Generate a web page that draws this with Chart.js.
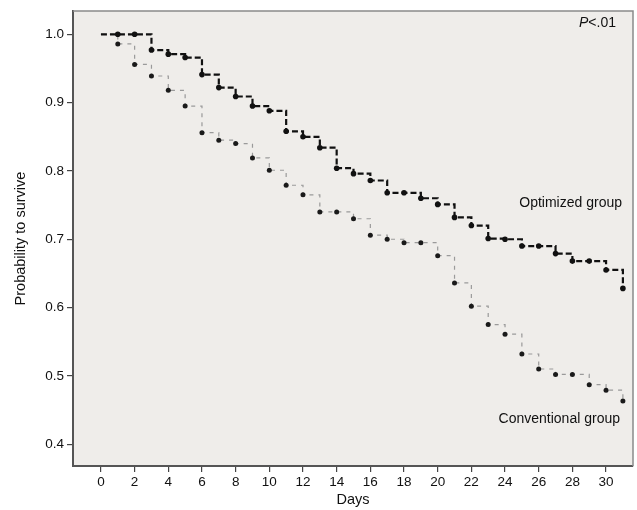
<!DOCTYPE html>
<html>
<head>
    <title>Survival</title>
    <script src="https://cdn.jsdelivr.net/npm/chart.js@4.4.0/dist/chart.umd.min.js"></script>
    <style>
        html, body { margin: 0; padding: 0; background: #fff; }
        #wrap { width: 637px; height: 510px; }
    </style>
</head>
<body>
    <div id="wrap">
        <canvas id="kmChart" width="637" height="510"></canvas>
    </div>

    <script>
        // days 0..31
        const days = [0,1,2,3,4,5,6,7,8,9,10,11,12,13,14,15,16,17,18,19,20,21,22,23,24,25,26,27,28,29,30,31];
        const optimized = [1.0,1.0,1.0,0.977,0.971,0.966,0.941,0.922,0.909,0.895,0.888,0.858,0.850,0.834,0.804,0.796,
                           0.786,0.768,0.768,0.760,0.751,0.732,0.720,0.701,0.700,0.690,0.690,0.679,0.668,0.668,0.655,0.628];
        const conventional = [1.0,0.986,0.956,0.939,0.918,0.895,0.856,0.845,0.840,0.819,0.801,0.779,0.765,0.740,0.740,0.730,
                              0.706,0.700,0.695,0.695,0.676,0.636,0.602,0.575,0.561,0.532,0.510,0.502,0.502,0.487,0.479,0.463];
        const xTicks = [0,2,4,6,8,10,12,14,16,18,20,22,24,26,28,30];
        const yTicks = [0.4,0.5,0.6,0.7,0.8,0.9,1.0];

        const FONT = 'Liberation Sans, Arial, sans-serif';

        // plot background + top/right frame + text labels
        const decor = {
            id: 'decor',
            beforeDraw(chart) {
                const { ctx, chartArea: a } = chart;
                ctx.save();
                ctx.fillStyle = '#efedea';
                ctx.fillRect(a.left, a.top, a.right - a.left, a.bottom - a.top);
                ctx.restore();
            },
            afterDraw(chart) {
                const { ctx, chartArea: a } = chart;
                ctx.save();
                ctx.strokeStyle = '#8a8a8a';
                ctx.lineWidth = 1.5;
                ctx.beginPath();
                ctx.moveTo(a.left, a.top);
                ctx.lineTo(a.right, a.top);
                ctx.lineTo(a.right, a.bottom);
                ctx.stroke();

                ctx.fillStyle = '#111';
                ctx.textBaseline = 'middle';
                ctx.textAlign = 'right';
                ctx.font = '14px ' + FONT;
                ctx.fillText('<.01', a.right - 17, a.top + 12);
                const w = ctx.measureText('<.01').width;
                ctx.font = 'italic 14px ' + FONT;
                ctx.fillText('P', a.right - 17 - w, a.top + 12);

                ctx.font = '14px ' + FONT;
                ctx.fillText('Optimized group', a.right - 11, a.top + 192);
                ctx.fillText('Conventional group', a.right - 13, a.top + 408);
                ctx.restore();
            }
        };

        const ctx = document.getElementById('kmChart').getContext('2d');

        new Chart(ctx, {
            type: 'line',
            data: {
                labels: days,
                datasets: [{
                    label: 'Optimized group',
                    data: days.map((d, i) => ({ x: d, y: optimized[i] })),
                    borderColor: '#111',
                    borderWidth: 2.2,
                    borderDash: [6, 3],
                    stepped: true,
                    pointRadius: c => c.dataIndex === 0 ? 0 : 2.8,
                    pointBackgroundColor: '#111',
                    pointBorderWidth: 0
                }, {
                    label: 'Conventional group',
                    data: days.map((d, i) => ({ x: d, y: conventional[i] })),
                    borderColor: '#9a9a9a',
                    borderWidth: 1.2,
                    borderDash: [4, 5],
                    stepped: true,
                    pointRadius: c => c.dataIndex === 0 ? 0 : 2.5,
                    pointBackgroundColor: '#1a1a1a',
                    pointBorderWidth: 0
                }]
            },
            options: {
                responsive: false,
                animation: false,
                layout: { padding: { top: 9, right: 2, left: 12, bottom: 0 } },
                plugins: { legend: { display: false }, tooltip: { enabled: false } },
                scales: {
                    x: {
                        type: 'linear',
                        min: -1.66,
                        max: 31.6,
                        afterBuildTicks: s => { s.ticks = xTicks.map(v => ({ value: v })); },
                        afterFit: s => { s.height = 44; },
                        grid: { display: true, drawOnChartArea: false, drawTicks: true, tickLength: 6, color: '#444', lineWidth: 1.2 },
                        border: { display: true, color: '#555', width: 2 },
                        ticks: { color: '#111', font: { family: FONT, size: 13.5 }, padding: 2, maxRotation: 0, autoSkip: false },
                        title: { display: true, text: 'Days', color: '#111', font: { family: FONT, size: 14.5 }, padding: { top: 0, bottom: 1 } }
                    },
                    y: {
                        min: 0.368,
                        max: 1.034,
                        afterBuildTicks: s => { s.ticks = yTicks.map(v => ({ value: v })); },
                        afterFit: s => { s.width = 61; },
                        grid: { display: true, drawOnChartArea: false, drawTicks: true, tickLength: 6, color: '#444', lineWidth: 1.2 },
                        border: { display: true, color: '#555', width: 2 },
                        ticks: { color: '#111', font: { family: FONT, size: 13.5 }, padding: 3, callback: v => v.toFixed(1) },
                        title: { display: true, text: 'Probability to survive', color: '#111', font: { family: FONT, size: 14.5 }, padding: { top: 0, bottom: 0 } }
                    }
                }
            },
            plugins: [decor]
        });
    </script>
</body>
</html>
